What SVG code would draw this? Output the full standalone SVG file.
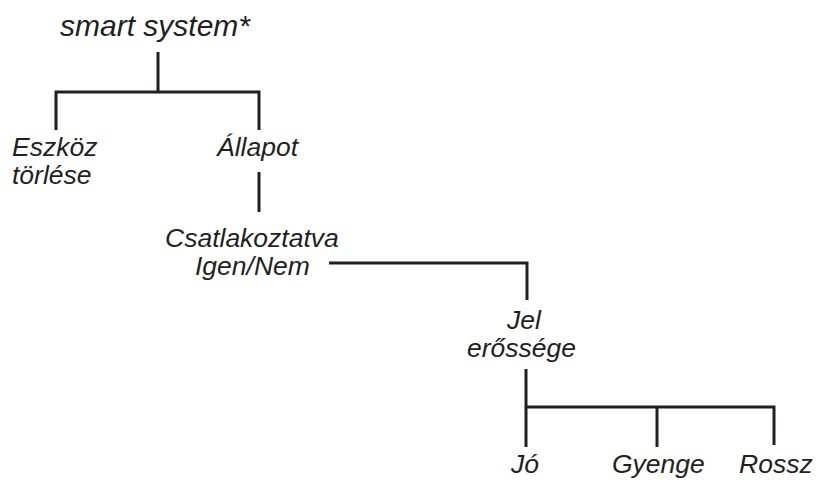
<svg xmlns="http://www.w3.org/2000/svg" width="818" height="480" viewBox="0 0 818 480">
<style>
.t{font-family:"Liberation Sans",Arial,sans-serif;font-style:italic;font-size:26.5px;fill:#231f20}
.ti{font-size:30px}
.c{stroke:#231f20;stroke-width:3;fill:none}
</style>
<rect width="818" height="480" fill="#fff"/>
<g id="connectors" class="c">
<path d="M158 52V92M56 130V92H259V130"/>
<path d="M259 172V212"/>
<path d="M329 263H527V300"/>
<path d="M526 369V447M526 407H774V445M657 407V447"/>
</g>
<g id="n-root"><text class="t ti" x="60" y="36">smart system*</text></g>
<g id="n-eszkoz"><text class="t" x="12" y="156">Eszköz</text><text class="t" x="12" y="184">törlése</text></g>
<g id="n-allapot"><text class="t" x="217" y="156">Állapot</text></g>
<g id="n-csatl"><text class="t" x="165" y="247">Csatlakoztatva</text><text class="t" x="195" y="275">Igen/Nem</text></g>
<g id="n-jel"><text class="t" x="507" y="329">Jel</text><text class="t" x="467" y="357">erőssége</text></g>
<g id="n-jo"><text class="t" x="511" y="473">Jó</text></g>
<g id="n-gyenge"><text class="t" x="612" y="473">Gyenge</text></g>
<g id="n-rossz"><text class="t" x="739" y="473">Rossz</text></g>
</svg>
